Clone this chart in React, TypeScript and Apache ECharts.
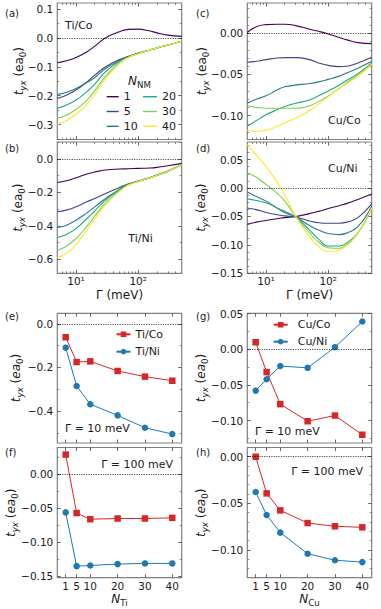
import React, { useEffect, useRef } from 'react';
import * as echarts from 'echarts';

// ---------------- data ----------------
const GAMMA_MEV = [5, 7, 10, 15, 20, 30, 50, 70, 100, 150, 200, 300, 500];
const N_NM = ['1', '5', '10', '20', '30', '40'];
const N_LAYERS = [1, 5, 10, 20, 30, 40];

// panel (a) Ti/Co, rows = N_NM
const TI_CO_CURVES = [
  [-0.086, -0.079, -0.068, -0.048, -0.029, 0.0, 0.021, 0.029, 0.030, 0.024, 0.017, 0.009, 0.005],
  [-0.209, -0.198, -0.180, -0.152, -0.129, -0.100, -0.075, -0.064, -0.053, -0.043, -0.035, -0.025, -0.012],
  [-0.195, -0.189, -0.175, -0.154, -0.137, -0.106, -0.079, -0.065, -0.054, -0.043, -0.035, -0.025, -0.012],
  [-0.244, -0.232, -0.215, -0.186, -0.160, -0.117, -0.082, -0.066, -0.054, -0.043, -0.035, -0.025, -0.012],
  [-0.278, -0.267, -0.247, -0.215, -0.183, -0.132, -0.086, -0.067, -0.055, -0.043, -0.035, -0.025, -0.012],
  [-0.299, -0.286, -0.264, -0.229, -0.195, -0.140, -0.089, -0.068, -0.055, -0.043, -0.035, -0.025, -0.012],
];
// panel (b) Ti/Ni
const TI_NI_CURVES = [
  [-0.140, -0.130, -0.112, -0.090, -0.078, -0.066, -0.060, -0.058, -0.056, -0.054, -0.050, -0.040, -0.026],
  [-0.316, -0.306, -0.286, -0.256, -0.236, -0.206, -0.170, -0.148, -0.132, -0.112, -0.096, -0.072, -0.032],
  [-0.410, -0.396, -0.366, -0.322, -0.286, -0.236, -0.180, -0.150, -0.134, -0.113, -0.097, -0.073, -0.033],
  [-0.470, -0.452, -0.416, -0.356, -0.310, -0.246, -0.186, -0.152, -0.134, -0.114, -0.098, -0.074, -0.034],
  [-0.546, -0.522, -0.476, -0.402, -0.342, -0.262, -0.190, -0.154, -0.135, -0.114, -0.098, -0.074, -0.034],
  [-0.590, -0.566, -0.512, -0.426, -0.360, -0.272, -0.194, -0.156, -0.136, -0.114, -0.098, -0.074, -0.034],
];
// panel (c) Cu/Co
const CU_CO_CURVES = [
  [0.001, 0.008, 0.0105, 0.011, 0.011, 0.0093, 0.005, 0.0024, -0.0008, -0.005, -0.008, -0.0113, -0.0125],
  [-0.035, -0.034, -0.032, -0.030, -0.0296, -0.0296, -0.032, -0.036, -0.039, -0.0405, -0.040, -0.036, -0.029],
  [-0.085, -0.080, -0.076, -0.069, -0.065, -0.063, -0.061, -0.059, -0.056, -0.052, -0.048, -0.0425, -0.034],
  [-0.113, -0.106, -0.099, -0.093, -0.089, -0.085, -0.081, -0.076, -0.070, -0.063, -0.057, -0.049, -0.036],
  [-0.088, -0.090, -0.091, -0.091, -0.091, -0.091, -0.088, -0.083, -0.076, -0.067, -0.060, -0.0506, -0.037],
  [-0.118, -0.119, -0.118, -0.113, -0.109, -0.103, -0.094, -0.086, -0.077, -0.067, -0.061, -0.052, -0.038],
];
// panel (d) Cu/Ni
const CU_NI_CURVES = [
  [-0.064, -0.060, -0.057, -0.054, -0.052, -0.050, -0.045, -0.041, -0.036, -0.031, -0.027, -0.020, -0.0105],
  [-0.035, -0.038, -0.043, -0.047, -0.049, -0.051, -0.058, -0.061, -0.062, -0.062, -0.060, -0.052, -0.028],
  [-0.007, -0.015, -0.023, -0.035, -0.043, -0.051, -0.066, -0.074, -0.080, -0.082, -0.079, -0.068, -0.032],
  [-0.019, -0.022, -0.026, -0.035, -0.041, -0.051, -0.074, -0.090, -0.102, -0.102, -0.096, -0.079, -0.035],
  [0.027, 0.019, 0.006, -0.009, -0.023, -0.050, -0.079, -0.095, -0.105, -0.106, -0.099, -0.080, -0.035],
  [0.076, 0.058, 0.038, 0.011, -0.012, -0.050, -0.085, -0.103, -0.112, -0.109, -0.101, -0.079, -0.035],
];

// panels (e)-(h), values at N = N_LAYERS
const TI_CO_G10 = [-0.061, -0.175, -0.172, -0.216, -0.242, -0.261];
const TI_NI_G10 = [-0.109, -0.285, -0.369, -0.420, -0.477, -0.506];
const TI_CO_G100 = [0.029, -0.057, -0.066, -0.065, -0.065, -0.064];
const TI_NI_G100 = [-0.056, -0.135, -0.134, -0.132, -0.131, -0.131];
const CU_CO_G10 = [0.010, -0.032, -0.077, -0.101, -0.093, -0.120];
const CU_NI_G10 = [-0.058, -0.042, -0.0235, -0.026, 0.003, 0.039];
const CU_CO_G100 = [0.0, -0.0393, -0.0575, -0.0711, -0.0746, -0.0757];
const CU_NI_G100 = [-0.0378, -0.0625, -0.0814, -0.104, -0.111, -0.113];

// tick labels
const GAMMA_MAJOR_TICKS = [10, 100];
const GAMMA_MINOR_TICKS = [6, 7, 8, 9, 20, 30, 40, 50, 60, 70, 80, 90, 200, 300, 400];
const N_TICKS = [1, 5, 10, 20, 30, 40];
const Y_TICKS_A = [0.1, 0, -0.1, -0.2, -0.3];
const Y_TICKS_B = [0, -0.2, -0.4, -0.6];
const Y_TICKS_C = [0, -0.05, -0.1];
const Y_TICKS_D = [0.05, 0, -0.05, -0.1, -0.15];
const Y_TICKS_E = [0, -0.2, -0.4];
const Y_TICKS_F = [0, -0.05, -0.1, -0.15];
const Y_TICKS_G = [0.05, 0, -0.05, -0.1];
const Y_TICKS_H = [0, -0.05, -0.1];

// ---------------- style / layout ----------------
const VIRIDIS = ['#440154', '#414487', '#2a788e', '#22a884', '#7ad151', '#fde725'];
const RED = '#d62728';
const BLUE = '#1f77b4';
const FONT = 'DejaVu Sans';
const TXT = '#1a1a1a';
const TICK = '#444';
const FRAME = '#808080';
const COLS = [57.3, 247.3];
const WIDTH = 124.4;
const ROWS = [
  { top: 3, height: 136.5 },
  { top: 142, height: 131.3 },
  { top: 313.3, height: 129.7 },
  { top: 447.5, height: 130.2 },
];
const N_MIN = -2.07;
const N_MAX = 43.44;

type Panel = {
  col: number; row: number; yMin: number; yMax: number; yMajor: number[]; minorStep: number;
  dec: number; kind: 'gamma' | 'n'; showX: boolean;
  curves?: number[][]; red?: number[]; blue?: number[]; redName?: string; blueName?: string;
};

const PANELS: Panel[] = [
  { col: 0, row: 0, yMin: -0.351, yMax: 0.12, yMajor: Y_TICKS_A, minorStep: 0.05, dec: 1, kind: 'gamma', showX: false, curves: TI_CO_CURVES },
  { col: 0, row: 1, yMin: -0.684, yMax: 0.102, yMajor: Y_TICKS_B, minorStep: 0.1, dec: 1, kind: 'gamma', showX: true, curves: TI_NI_CURVES },
  { col: 1, row: 0, yMin: -0.129, yMax: 0.0368, yMajor: Y_TICKS_C, minorStep: 0.01, dec: 2, kind: 'gamma', showX: false, curves: CU_CO_CURVES },
  { col: 1, row: 1, yMin: -0.15, yMax: 0.081, yMajor: Y_TICKS_D, minorStep: 0.0125, dec: 2, kind: 'gamma', showX: true, curves: CU_NI_CURVES },
  { col: 0, row: 2, yMin: -0.547, yMax: 0.049, yMajor: Y_TICKS_E, minorStep: 0.1, dec: 1, kind: 'n', showX: false, red: TI_CO_G10, blue: TI_NI_G10, redName: 'Ti/Co', blueName: 'Ti/Ni' },
  { col: 0, row: 3, yMin: -0.152, yMax: 0.0394, yMajor: Y_TICKS_F, minorStep: 0.025, dec: 2, kind: 'n', showX: true, red: TI_CO_G100, blue: TI_NI_G100, redName: 'Ti/Co', blueName: 'Ti/Ni' },
  { col: 1, row: 2, yMin: -0.1316, yMax: 0.0506, yMajor: Y_TICKS_G, minorStep: 0.025, dec: 2, kind: 'n', showX: false, red: CU_CO_G10, blue: CU_NI_G10, redName: 'Cu/Co', blueName: 'Cu/Ni' },
  { col: 1, row: 3, yMin: -0.1297, yMax: 0.0099, yMajor: Y_TICKS_H, minorStep: 0.01, dec: 2, kind: 'n', showX: true, red: CU_CO_G100, blue: CU_NI_G100, redName: 'Cu/Co', blueName: 'Cu/Ni' },
];

const SUP: Record<number, string> = { 1: '\u00b9', 2: '\u00b2' };

function minorTicks(min: number, max: number, step: number, major: number[]) {
  const out: number[] = [];
  const k0 = Math.ceil(min / step - 1e-9);
  const k1 = Math.floor(max / step + 1e-9);
  for (let k = k0; k <= k1; k++) {
    const v = +(k * step).toFixed(6);
    if (!major.some((m) => Math.abs(m - v) < 1e-9)) out.push(v);
  }
  return out;
}

function yFormatter(dec: number) {
  return (v: number) => (v < -1e-9 ? '\u2212' : '') + Math.abs(v).toFixed(dec);
}

function tickAxes(g: number, min: number, max: number, major: number[], minor: number[], sides: string[], showLabel: boolean, fmt: (v: number) => string, margin: number) {
  const base = {
    gridIndex: g, type: 'value', min, max, silent: true,
    splitLine: { show: false }, splitArea: { show: false },
    axisLine: { show: false, onZero: false },
    axisPointer: { show: false },
  };
  const out: any[] = [];
  sides.forEach((pos, si) => {
    out.push({
      ...base, position: pos,
      axisTick: { show: true, inside: true, length: 3.5, customValues: major, lineStyle: { color: TICK, width: 0.8 } },
      axisLabel: {
        show: si === 0 && showLabel, customValues: major, formatter: fmt, margin,
        fontSize: 10.5, fontFamily: FONT, color: TXT,
      },
    });
    out.push({
      ...base, position: pos,
      axisTick: { show: minor.length > 0, inside: true, length: 2, customValues: minor.length ? minor : undefined, lineStyle: { color: TICK, width: 0.6 } },
      axisLabel: { show: false },
    });
  });
  return out;
}

function richLabel(base: number, italicBase: boolean) {
  return {
    i: { fontSize: base, fontStyle: 'italic', fontFamily: FONT, fill: TXT, color: TXT, verticalAlign: 'bottom', padding: [0, 0, 2.5, 0] },
    r: { fontSize: base, fontStyle: 'normal', fontFamily: FONT, fill: TXT, color: TXT, verticalAlign: 'bottom', padding: [0, 0, 2.5, 0] },
    e: { fontSize: base, fontStyle: italicBase ? 'italic' : 'normal', fontFamily: FONT, fill: TXT, color: TXT, verticalAlign: 'bottom', padding: [0, 0, 2.5, 0] },
    si: { fontSize: base * 0.72, fontStyle: 'italic', fontFamily: FONT, fill: TXT, color: TXT, verticalAlign: 'bottom' },
    sr: { fontSize: base * 0.72, fontStyle: 'normal', fontFamily: FONT, fill: TXT, color: TXT, verticalAlign: 'bottom' },
  };
}

function textEl(text: string, x: number, y: number, opts: any = {}) {
  return {
    type: 'text', x, y, rotation: opts.rotation || 0, silent: true, z: 100,
    style: {
      text, fill: TXT, fontSize: opts.fontSize || 11, fontFamily: FONT,
      align: opts.align || 'left', textAlign: opts.align || 'left',
      verticalAlign: 'middle', textVerticalAlign: 'middle',
      rich: opts.rich,
    },
  };
}

function buildOption() {
  const grid: any[] = [];
  const xAxis: any[] = [];
  const yAxis: any[] = [];
  const series: any[] = [];

  PANELS.forEach((p, g) => {
    const left = COLS[p.col];
    const { top, height } = ROWS[p.row];
    grid.push({
      left, top, width: WIDTH, height, show: true, borderColor: FRAME, borderWidth: 1.2,
      backgroundColor: 'rgba(0,0,0,0)', containLabel: false, outerBoundsMode: 'none',
    });
    const isG = p.kind === 'gamma';
    xAxis.push(isG
      ? { gridIndex: g, type: 'log', logBase: 10, min: 5, max: 500, show: false, axisLine: { onZero: false } }
      : { gridIndex: g, type: 'value', min: N_MIN, max: N_MAX, show: false, axisLine: { onZero: false } });
    yAxis.push({ gridIndex: g, type: 'value', min: p.yMin, max: p.yMax, show: false, axisLine: { onZero: false } });

    const xMin = isG ? Math.log10(5) : N_MIN;
    const xMax = isG ? Math.log10(500) : N_MAX;
    const xMajor = isG ? GAMMA_MAJOR_TICKS.map((v) => Math.log10(v)) : N_TICKS;
    const xMinor = isG ? GAMMA_MINOR_TICKS.map((v) => Math.log10(v)) : [];
    const xFmt = isG ? (v: number) => '10' + SUP[Math.round(v)] : (v: number) => String(Math.round(v));
    xAxis.push(...tickAxes(g, xMin, xMax, xMajor, xMinor, ['bottom', 'top'], p.showX, xFmt, 2.5));
    yAxis.push(...tickAxes(g, p.yMin, p.yMax, p.yMajor, minorTicks(p.yMin, p.yMax, p.minorStep, p.yMajor), ['left', 'right'], true, yFormatter(p.dec), 4));

    const axisIdx = g * 5;
    const zeroLine = {
      silent: true, symbol: ['none', 'none'], label: { show: false },
      lineStyle: { type: [1.2, 1.2], color: '#000', width: 0.7 },
      emphasis: { disabled: true },
      data: [{ yAxis: 0 }],
    };
    if (p.curves) {
      p.curves.forEach((vals, k) => {
        series.push({
          type: 'line', name: N_NM[k], xAxisIndex: axisIdx, yAxisIndex: axisIdx,
          data: GAMMA_MEV.map((gm, i) => [gm, vals[i]]),
          symbol: 'none', smooth: 0.5,
          lineStyle: { width: 1.1, color: VIRIDIS[k] }, itemStyle: { color: VIRIDIS[k] },
          markLine: k === 0 ? zeroLine : undefined,
        });
      });
    } else {
      series.push({
        type: 'line', name: p.redName, xAxisIndex: axisIdx, yAxisIndex: axisIdx,
        data: N_LAYERS.map((n, i) => [n, p.red![i]]),
        symbol: 'rect', symbolSize: 6.5,
        lineStyle: { width: 1, color: RED }, itemStyle: { color: RED },
        markLine: zeroLine,
      });
      series.push({
        type: 'line', name: p.blueName, xAxisIndex: axisIdx, yAxisIndex: axisIdx,
        data: N_LAYERS.map((n, i) => [n, p.blue![i]]),
        symbol: 'circle', symbolSize: 6.5,
        lineStyle: { width: 1, color: BLUE }, itemStyle: { color: BLUE },
      });
    }
  });

  const legendText = { fontSize: 11, fontFamily: FONT, color: TXT, lineHeight: 12 };
  const legend = [
    { data: ['1', '5', '10'], orient: 'vertical', left: 106.7, top: 90.7, padding: 0, icon: 'rect', itemWidth: 12, itemHeight: 1.4, itemGap: 2.8, selectedMode: false, textStyle: legendText },
    { data: ['20', '30', '40'], orient: 'vertical', left: 143, top: 90.7, padding: 0, icon: 'rect', itemWidth: 14, itemHeight: 1.4, itemGap: 2.8, selectedMode: false, textStyle: legendText },
    { data: ['Ti/Co', 'Ti/Ni'], orient: 'vertical', left: 115.5, top: 328.3, padding: 0, itemWidth: 14, itemHeight: 7, itemGap: 5.4, selectedMode: false, textStyle: legendText },
    { data: ['Cu/Co', 'Cu/Ni'], orient: 'vertical', left: 272.7, top: 318.7, padding: 0, itemWidth: 14, itemHeight: 7, itemGap: 5, selectedMode: false, textStyle: { ...legendText, padding: [0, 0, 0, 5] } },
  ];

  const yTitle = (italicEa: boolean) => ({
    text: '{i|t}{si|yx}{r| (}{e|ea}{sr|0}{r|)}',
    rich: richLabel(12, italicEa),
  });
  const graphic: any[] = [];
  // panel letters
  ([['(a)', 5, 13], ['(b)', 5, 148], ['(c)', 196, 13], ['(d)', 196, 148],
    ['(e)', 5, 316], ['(f)', 5, 452], ['(g)', 196, 316], ['(h)', 196, 452]] as [string, number, number][])
    .forEach(([t, x, y]) => graphic.push(textEl(t, x, y, { fontSize: 10 })));
  // inner labels
  graphic.push(textEl('Ti/Co', 65, 25));
  graphic.push(textEl('Ti/Ni', 128.3, 238.3));
  graphic.push(textEl('Cu/Co', 328, 120));
  graphic.push(textEl('Cu/Ni', 328, 168.3));
  graphic.push(textEl('\u0393 = 10 meV', 65, 428.3));
  graphic.push(textEl('\u0393 = 100 meV', 173, 464, { align: 'right' }));
  graphic.push(textEl('\u0393 = 10 meV', 255, 431.7));
  graphic.push(textEl('\u0393 = 100 meV', 363, 471.7, { align: 'right' }));
  // legend title N_NM
  graphic.push(textEl('{i|N}{sr|NM}', 128, 82, { rich: richLabel(12, false) }));
  // y titles
  ([[20, 71.2, false], [19, 207.7, false], [203, 71.2, false], [202.5, 207.7, true],
    [17, 378, true], [12.5, 512.8, true], [202.5, 378, true], [202.5, 512.8, true]] as [number, number, boolean][])
    .forEach(([x, y, it]) => {
      const t = yTitle(it);
      graphic.push(textEl(t.text, x, y, { rich: t.rich, rotation: Math.PI / 2, align: 'center' }));
    });
  // x titles
  graphic.push(textEl('\u0393 (meV)', 119.5, 295, { fontSize: 12, align: 'center' }));
  graphic.push(textEl('\u0393 (meV)', 309.5, 295, { fontSize: 12, align: 'center' }));
  graphic.push(textEl('{i|N}{sr|Ti}', 119.5, 600, { rich: richLabel(12, false), align: 'center' }));
  graphic.push(textEl('{i|N}{sr|Cu}', 309.5, 600, { rich: richLabel(12, false), align: 'center' }));

  return {
    animation: false,
    backgroundColor: '#fff',
    textStyle: { fontFamily: FONT },
    grid, xAxis, yAxis, series, legend, graphic,
  };
}

export default function App() {
  const ref = useRef<HTMLDivElement>(null);
  useEffect(() => {
    if (!ref.current) return;
    const chart = echarts.init(ref.current, null, { renderer: 'svg' });
    chart.setOption(buildOption() as any);
    return () => chart.dispose();
  }, []);
  return <div ref={ref} style={{ position: 'fixed', left: 0, top: 0, width: 381, height: 609 }} />;
}
